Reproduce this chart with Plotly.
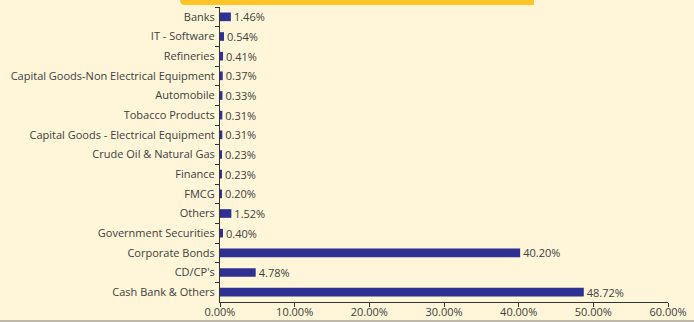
import plotly.graph_objects as go

categories = [
    "Banks", "IT - Software", "Refineries", "Capital Goods-Non Electrical Equipment",
    "Automobile", "Tobacco Products", "Capital Goods - Electrical Equipment",
    "Crude Oil & Natural Gas", "Finance", "FMCG", "Others", "Government Securities",
    "Corporate Bonds", "CD/CP's", "Cash Bank & Others",
]
weights = [1.46, 0.54, 0.41, 0.37, 0.33, 0.31, 0.31, 0.23, 0.23, 0.20, 1.52, 0.40, 40.20, 4.78, 48.72]
x_ticks = [0, 10, 20, 30, 40, 50, 60]

BG = "#FFF5D8"
BAR = "#2E3192"
TXT = "#404040"
FONT = "Open Sans, Lato, sans-serif"

W, H = 694, 322
L, R, T, B = 220, 26, 7, 20
pw, ph = W - L - R, H - T - B


def px(x):
    return (x - L) / pw


def py(y):
    return (H - B - y) / ph


fig = go.Figure(go.Bar(
    x=weights, y=categories, orientation="h",
    marker=dict(color=BAR, line=dict(width=0)),
    text=[f"{v:.2f}%" for v in weights], textposition="outside",
    constraintext="none",
    textfont=dict(family=FONT, size=11, color=TXT),
    cliponaxis=False,
))

# yellow header strip with a rounded lower-left corner
r = 5
hx0, hx1, hy0, hy1 = 180, 534, -2, 5
header = (
    f"M {px(hx0)},{py(hy0)} L {px(hx1)},{py(hy0)} L {px(hx1)},{py(hy1)} "
    f"L {px(hx0 + r)},{py(hy1)} Q {px(hx0)},{py(hy1)} {px(hx0)},{py(hy1 - r)} Z"
)

fig.update_layout(
    width=W, height=H,
    margin=dict(l=L, r=R, t=T, b=B),
    paper_bgcolor=BG, plot_bgcolor=BG,
    bargap=0.56,
    showlegend=False,
    font=dict(family=FONT, size=11, color=TXT),
    xaxis=dict(
        range=[0, 60], tickvals=x_ticks,
        ticktext=[f"{v:.2f}%" for v in x_ticks],
        showgrid=False, zeroline=False, automargin=False,
        showline=True, linecolor="#333333", linewidth=1,
        ticks="outside", ticklen=4, tickcolor="#333333",
        tickfont=dict(size=11, color=TXT), ticklabelstandoff=-4,
    ),
    yaxis=dict(
        autorange="reversed", showgrid=False, automargin=False,
        showline=True, linecolor="#333333", linewidth=1,
        ticks="outside", ticklen=4, tickcolor="#333333", tickson="boundaries",
        tickfont=dict(size=11, color=TXT), ticklabelstandoff=2,
    ),
    shapes=[
        dict(type="path", path=header, xref="paper", yref="paper",
             fillcolor="#FFC425", line=dict(width=0), layer="above"),
        dict(type="line", xref="paper", yref="paper",
             x0=px(0), x1=px(W), y0=py(H - 1), y1=py(H - 1),
             line=dict(color="#BDB8A8", width=2)),
    ],
)

fig.write_html("out.html")
